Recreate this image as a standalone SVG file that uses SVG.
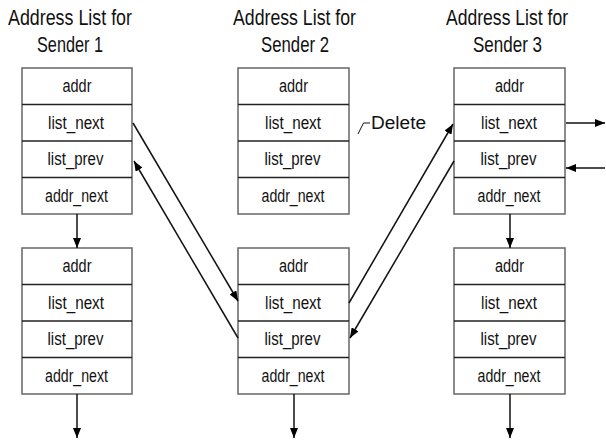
<svg xmlns="http://www.w3.org/2000/svg" width="606" height="441" viewBox="0 0 606 441">
<defs>
<marker id="ah" viewBox="0 0 10 8" refX="10" refY="4" markerWidth="10" markerHeight="8" markerUnits="userSpaceOnUse" orient="auto">
<path d="M0,0 L10,4 L0,8 z" fill="#000"/>
</marker>
<style>
.box{fill:#fff;stroke:#666;stroke-width:1.5}
.sep{stroke:#222;stroke-width:1.5}
.cell{font-family:"Liberation Sans",Arial,sans-serif;font-size:17.5px;fill:#111;text-anchor:middle}
.title{font-family:"Liberation Sans",Arial,sans-serif;font-size:22.5px;fill:#111;text-anchor:middle}
.conn{stroke:#111;stroke-width:1.5;fill:none;marker-end:url(#ah)}
</style>
</defs>
<rect width="606" height="441" fill="#fff"/>

<g id="titles">
<text class="title" x="70" y="25" textLength="124" lengthAdjust="spacingAndGlyphs">Address List for</text>
<text class="title" x="70" y="52" textLength="66" lengthAdjust="spacingAndGlyphs">Sender 1</text>
<text class="title" x="294.5" y="25" textLength="123" lengthAdjust="spacingAndGlyphs">Address List for</text>
<text class="title" x="295" y="52" textLength="68" lengthAdjust="spacingAndGlyphs">Sender 2</text>
<text class="title" x="507" y="25" textLength="122" lengthAdjust="spacingAndGlyphs">Address List for</text>
<text class="title" x="507.5" y="52" textLength="69" lengthAdjust="spacingAndGlyphs">Sender 3</text>
</g>

<g id="s1top">
<rect class="box" x="22" y="68" width="110" height="146"/>
<line class="sep" x1="22" y1="104.5" x2="132" y2="104.5"/>
<line class="sep" x1="22" y1="141" x2="132" y2="141"/>
<line class="sep" x1="22" y1="177.5" x2="132" y2="177.5"/>
<text class="cell" x="77" y="92" textLength="29" lengthAdjust="spacingAndGlyphs">addr</text>
<text class="cell" x="76" y="128.5" textLength="56" lengthAdjust="spacingAndGlyphs">list_next</text>
<text class="cell" x="75.5" y="165" textLength="56" lengthAdjust="spacingAndGlyphs">list_prev</text>
<text class="cell" x="76.5" y="201.5" textLength="63" lengthAdjust="spacingAndGlyphs">addr_next</text>
</g>

<g id="s1bot">
<rect class="box" x="22" y="248" width="110" height="146"/>
<line class="sep" x1="22" y1="284.5" x2="132" y2="284.5"/>
<line class="sep" x1="22" y1="321" x2="132" y2="321"/>
<line class="sep" x1="22" y1="357.5" x2="132" y2="357.5"/>
<text class="cell" x="77" y="272" textLength="29" lengthAdjust="spacingAndGlyphs">addr</text>
<text class="cell" x="76" y="308.5" textLength="56" lengthAdjust="spacingAndGlyphs">list_next</text>
<text class="cell" x="75.5" y="345" textLength="56" lengthAdjust="spacingAndGlyphs">list_prev</text>
<text class="cell" x="76.5" y="381.5" textLength="63" lengthAdjust="spacingAndGlyphs">addr_next</text>
</g>

<g id="s2top">
<rect class="box" x="238" y="68" width="111" height="146"/>
<line class="sep" x1="238" y1="104.5" x2="349" y2="104.5"/>
<line class="sep" x1="238" y1="141" x2="349" y2="141"/>
<line class="sep" x1="238" y1="177.5" x2="349" y2="177.5"/>
<text class="cell" x="293.5" y="92" textLength="29" lengthAdjust="spacingAndGlyphs">addr</text>
<text class="cell" x="293" y="128.5" textLength="56" lengthAdjust="spacingAndGlyphs">list_next</text>
<text class="cell" x="292.5" y="165" textLength="56" lengthAdjust="spacingAndGlyphs">list_prev</text>
<text class="cell" x="293" y="201.5" textLength="63" lengthAdjust="spacingAndGlyphs">addr_next</text>
</g>

<g id="s2bot">
<rect class="box" x="238" y="248" width="111" height="146"/>
<line class="sep" x1="238" y1="284.5" x2="349" y2="284.5"/>
<line class="sep" x1="238" y1="321" x2="349" y2="321"/>
<line class="sep" x1="238" y1="357.5" x2="349" y2="357.5"/>
<text class="cell" x="293.5" y="272" textLength="29" lengthAdjust="spacingAndGlyphs">addr</text>
<text class="cell" x="293" y="308.5" textLength="56" lengthAdjust="spacingAndGlyphs">list_next</text>
<text class="cell" x="292.5" y="345" textLength="56" lengthAdjust="spacingAndGlyphs">list_prev</text>
<text class="cell" x="293" y="381.5" textLength="63" lengthAdjust="spacingAndGlyphs">addr_next</text>
</g>

<g id="s3top">
<rect class="box" x="454" y="68" width="111" height="146"/>
<line class="sep" x1="454" y1="104.5" x2="565" y2="104.5"/>
<line class="sep" x1="454" y1="141" x2="565" y2="141"/>
<line class="sep" x1="454" y1="177.5" x2="565" y2="177.5"/>
<text class="cell" x="509.5" y="92" textLength="29" lengthAdjust="spacingAndGlyphs">addr</text>
<text class="cell" x="509" y="128.5" textLength="56" lengthAdjust="spacingAndGlyphs">list_next</text>
<text class="cell" x="508.5" y="165" textLength="56" lengthAdjust="spacingAndGlyphs">list_prev</text>
<text class="cell" x="509" y="201.5" textLength="63" lengthAdjust="spacingAndGlyphs">addr_next</text>
</g>

<g id="s3bot">
<rect class="box" x="454" y="248" width="111" height="146"/>
<line class="sep" x1="454" y1="284.5" x2="565" y2="284.5"/>
<line class="sep" x1="454" y1="321" x2="565" y2="321"/>
<line class="sep" x1="454" y1="357.5" x2="565" y2="357.5"/>
<text class="cell" x="509.5" y="272" textLength="29" lengthAdjust="spacingAndGlyphs">addr</text>
<text class="cell" x="509" y="308.5" textLength="56" lengthAdjust="spacingAndGlyphs">list_next</text>
<text class="cell" x="508.5" y="345" textLength="56" lengthAdjust="spacingAndGlyphs">list_prev</text>
<text class="cell" x="509" y="381.5" textLength="63" lengthAdjust="spacingAndGlyphs">addr_next</text>
</g>

<g id="delete">
<path d="M358,134 L363.5,123 L370,123" fill="none" stroke="#111" stroke-width="1"/>
<text x="371" y="128.5" font-family="Liberation Sans, Arial, sans-serif" font-size="18" fill="#111" textLength="55" lengthAdjust="spacingAndGlyphs">Delete</text>
</g>

<g id="connectors">
<line class="conn" x1="77" y1="214" x2="77" y2="248"/>
<line class="conn" x1="77" y1="394" x2="77" y2="438"/>
<line class="conn" x1="294" y1="394" x2="294" y2="438"/>
<line class="conn" x1="510" y1="214" x2="510" y2="248"/>
<line class="conn" x1="510" y1="394" x2="510" y2="438"/>
<line class="conn" x1="133" y1="123" x2="238" y2="301"/>
<line class="conn" x1="238" y1="338" x2="134" y2="161"/>
<line class="conn" x1="349" y1="303" x2="453" y2="124"/>
<line class="conn" x1="454" y1="161" x2="350" y2="338"/>
<line class="conn" x1="566" y1="123" x2="605" y2="123"/>
<line class="conn" x1="605" y1="168" x2="566" y2="168"/>
</g>
</svg>
